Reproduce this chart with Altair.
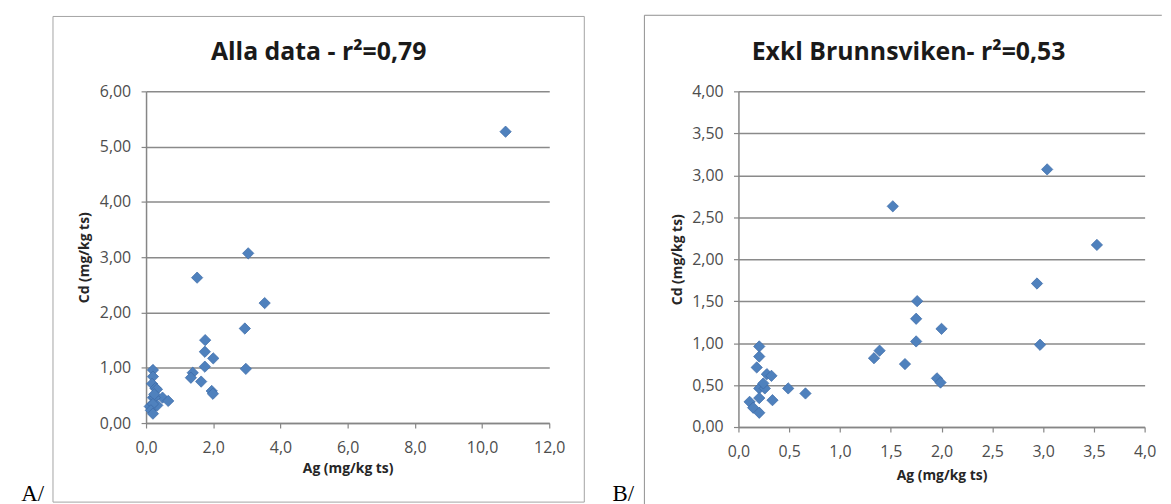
import altair as alt
import pandas as pd

# ---- data ----
ag_excl = [3.04, 1.52, 3.53, 2.94, 1.76, 1.75, 2.00, 1.75, 2.97, 1.39,
           1.335, 1.64, 1.955, 1.99, 0.49, 0.66, 0.205, 0.205, 0.18, 0.28,
           0.325, 0.205, 0.26, 0.245, 0.335, 0.11, 0.205, 0.145, 0.205]
cd_excl = [3.07, 2.63, 2.17, 1.71, 1.50, 1.29, 1.17, 1.02, 0.98, 0.91,
           0.82, 0.75, 0.58, 0.53, 0.46, 0.40, 0.96, 0.84, 0.71, 0.63,
           0.61, 0.46, 0.46, 0.52, 0.32, 0.30, 0.345, 0.23, 0.17]
ag_brunnsviken = [10.7]
cd_brunnsviken = [5.27]

title_a = "Alla data - r²=0,79"
title_b = "Exkl Brunnsviken- r²=0,53"
x_title = "Ag (mg/kg ts)"
y_title = "Cd (mg/kg ts)"
label_a = "A/"
label_b = "B/"

x_ticks_a = [0, 2, 4, 6, 8, 10, 12]
y_ticks_a = [0, 1, 2, 3, 4, 5, 6]
x_ticks_b = [0, 0.5, 1, 1.5, 2, 2.5, 3, 3.5, 4]
y_ticks_b = [0, 0.5, 1, 1.5, 2, 2.5, 3, 3.5, 4]

df_a = pd.DataFrame({"Ag": ag_excl + ag_brunnsviken, "Cd": cd_excl + cd_brunnsviken})
df_b = pd.DataFrame({"Ag": ag_excl, "Cd": cd_excl})

FONT = "Open Sans"
LABEL_COLOR = "#4d4d4d"
AXIS_COLOR = "#868686"
GRID_COLOR = "#8a8a8a"
MARK_COLOR = "#4F81BD"


def comma_expr(decimals):
    return f"replace(format(datum.value, '.{decimals}f'), '.', ',')"


def panel(df, W, H, xmax, ymax, xt, yt, title, tag, title_x, xtitle_y,
          box_kind, box, tag_x, tag_y):
    x_axis = alt.Axis(values=xt, labelExpr=comma_expr(1), grid=False,
                      title=x_title, titleY=xtitle_y, titleBaseline="middle",
                      tickSize=5, labelPadding=12, labelFlush=False)
    y_axis = alt.Axis(values=yt, labelExpr=comma_expr(2), grid=True,
                      title=y_title, titleX=-61.7, titleY=H / 2, titleAngle=270,
                      titleAlign="center", titleBaseline="middle",
                      tickSize=5, labelPadding=10.5, labelFlush=False)
    pts = alt.Chart(df).mark_point(
        shape="diamond", filled=True, size=130, color=MARK_COLOR,
        stroke="#3b6aa6", strokeWidth=0.7, opacity=1
    ).encode(
        x=alt.X("Ag:Q", scale=alt.Scale(domain=[0, xmax], nice=False, zero=True), axis=x_axis),
        y=alt.Y("Cd:Q", scale=alt.Scale(domain=[0, ymax], nice=False, zero=True), axis=y_axis),
    )
    one = pd.DataFrame({"t": [title]})
    ttl = alt.Chart(one).mark_text(
        font=FONT, fontWeight="bold", fontSize=25, color="#1a1a1a",
        align="center", baseline="middle"
    ).encode(x=alt.value(title_x), y=alt.value(-39.4), text="t:N")
    tagdf = pd.DataFrame({"t": [tag]})
    tg = alt.Chart(tagdf).mark_text(
        font="Liberation Serif", fontSize=23, color="#000000",
        align="left", baseline="alphabetic"
    ).encode(x=alt.value(tag_x), y=alt.value(tag_y), text="t:N")
    layers = []
    if box_kind == "rect":
        x1, x2, y1, y2 = box
        layers.append(alt.Chart(one).mark_rect(
            fillOpacity=0, stroke="#a3a3a3", strokeWidth=1
        ).encode(x=alt.value(x1), x2=alt.value(x2), y=alt.value(y1), y2=alt.value(y2)))
    else:
        x1, x2, y1, y2 = box
        layers.append(alt.Chart(one).mark_rule(color="#8f8f8f", strokeWidth=1).encode(
            x=alt.value(x1), y=alt.value(y1), y2=alt.value(y2)))
        layers.append(alt.Chart(one).mark_rule(color="#8f8f8f", strokeWidth=1).encode(
            x=alt.value(x1), x2=alt.value(x2), y=alt.value(y1)))
    layers += [pts, ttl, tg]
    return alt.layer(*layers).properties(width=W, height=H)


chart_a = panel(df_a, 406, 334, 12, 6, x_ticks_a, y_ticks_a, title_a, label_a,
                173.8, 46, "rect", (-93.7, 441.3, -75.4, 413.6), -125.7, 412.6)
chart_b = panel(df_b, 409, 338, 4, 4, x_ticks_b, y_ticks_b, title_b, label_b,
                171.3, 49, "rules", (-94.7, 426.3, -76.6, 416), -126.7, 412.7)

chart = alt.hconcat(chart_a, chart_b, spacing=27.5).properties(
    padding={"left": 13, "top": 4.2, "right": 0, "bottom": 0}
).configure(font=FONT).configure_view(strokeWidth=0).configure_axis(
    domainColor=AXIS_COLOR, domainWidth=1.5, tickColor=AXIS_COLOR, tickWidth=1.2,
    gridColor=GRID_COLOR, gridWidth=1.5, gridOpacity=1,
    labelFont=FONT, labelFontSize=16, labelColor=LABEL_COLOR,
    titleFont=FONT, titleFontSize=14, titleFontWeight="bold", titleColor="#262626"
)

chart.save("out.html", embed_options={"renderer": "svg", "actions": False})
